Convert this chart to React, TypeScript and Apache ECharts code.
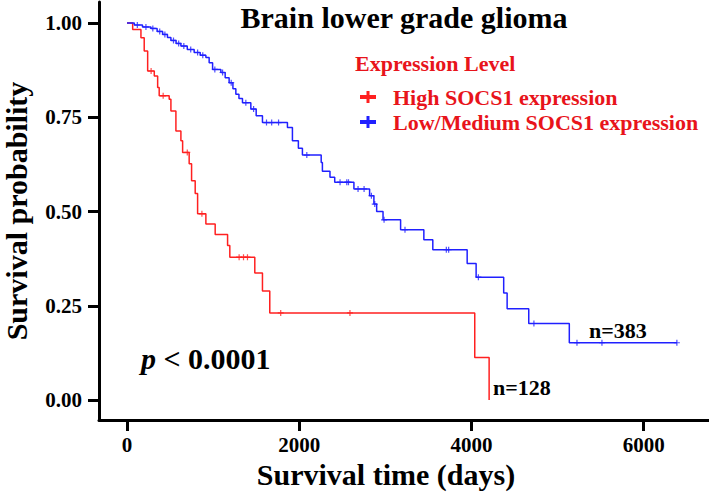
import React, { useEffect, useRef } from "react";
import * as echarts from "echarts";

// ---- Data ----
const highTimes = [0, 66, 162, 200, 240, 317, 356, 374, 490, 510, 568, 626, 646, 722, 750, 792, 820, 916, 1024, 1168, 1194, 1484, 1573, 1658, 4038, 4205];
const highSurv = [1.0, 0.983, 0.961, 0.926, 0.873, 0.86, 0.829, 0.807, 0.798, 0.767, 0.714, 0.688, 0.657, 0.627, 0.582, 0.548, 0.494, 0.467, 0.439, 0.41, 0.379, 0.337, 0.289, 0.231, 0.113, 0.0];
const highCensor = [280, 420, 700, 870, 1302, 1353, 1399, 1785, 2589];

const lowTimes = [0, 85, 180, 278, 350, 414, 470, 510, 570, 626, 700, 780, 850, 916, 954, 994, 1090, 1140, 1186, 1230, 1264, 1300, 1341, 1438, 1500, 1573, 1863, 1921, 1990, 2037, 2255, 2269, 2357, 2412, 2635, 2817, 2867, 2899, 2973, 3177, 3447, 3551, 3950, 4054, 4374, 4414, 4665, 5136];
const lowSurv = [1.0, 0.995, 0.99, 0.986, 0.978, 0.97, 0.962, 0.954, 0.946, 0.939, 0.93, 0.922, 0.915, 0.909, 0.895, 0.877, 0.869, 0.855, 0.842, 0.826, 0.811, 0.8, 0.789, 0.772, 0.754, 0.736, 0.723, 0.688, 0.668, 0.65, 0.63, 0.607, 0.591, 0.578, 0.56, 0.542, 0.52, 0.5, 0.478, 0.452, 0.425, 0.399, 0.362, 0.326, 0.284, 0.242, 0.203, 0.152];
const lowCensor = [120, 220, 300, 380, 440, 540, 600, 660, 740, 820, 880, 1020, 1110, 1210, 1380, 1470, 1620, 1680, 1760, 2088, 2474, 2552, 2572, 2683, 2753, 2838, 2877, 2985, 3228, 3708, 3735, 4080, 4725, 5225, 5515, 6385];

const xTicks = [0, 2000, 4000, 6000];
const yTicks = [0, 0.25, 0.5, 0.75, 1.0];

const seriesNames = ["High SOCS1 expression", "Low/Medium SOCS1 expression"];
const seriesColors = ["#ff2020", "#2020ff"];
const groupCounts = ["n=128", "n=383"];

const FONT = '"Liberation Serif", "Times New Roman", serif';
const TEXT_RED = "#e8141b";

function stepData(times: number[], surv: number[], censor: number[]) {
  const pts: [number, number][] = times.map((t, i) => [t, surv[i]]);
  const lastCensor = Math.max(...censor);
  const last = times[times.length - 1];
  if (lastCensor > last) pts.push([lastCensor, surv[surv.length - 1]]);
  return pts;
}

function survAt(times: number[], surv: number[], t: number) {
  let s = surv[0];
  for (let i = 0; i < times.length; i++) {
    if (times[i] <= t) s = surv[i];
  }
  return s;
}

const censorSymbol = "path://M2,0h1v2h2v1h-2v2h-1v-2h-2v-1h2z";
const legendIcon = "path://M6.5,0h3v4h6.5v4h-6.5v4h-3v-4h-6.5v-4h6.5z";

export default function App() {
  const ref = useRef<HTMLDivElement>(null);

  useEffect(() => {
    if (!ref.current) return;
    const chart = echarts.init(ref.current, null, { renderer: "svg" });

    const groups = [
      { times: highTimes, surv: highSurv, censor: highCensor },
      { times: lowTimes, surv: lowSurv, censor: lowCensor },
    ];

    const lineSeries = groups.map((g, i) => ({
      name: seriesNames[i],
      type: "line",
      step: "end",
      data: stepData(g.times, g.surv, g.censor),
      showSymbol: false,
      symbol: "none",
      lineStyle: { color: seriesColors[i], width: 1.5 },
      itemStyle: { color: seriesColors[i] },
      z: 3,
    }));

    const censorSeries = groups.map((g, i) => ({
      name: seriesNames[i] + " (censored)",
      type: "scatter",
      data: g.censor.map((t) => [t, survAt(g.times, g.surv, t)]),
      symbol: censorSymbol,
      symbolSize: 6,
      itemStyle: { color: seriesColors[i] },
      z: 4,
    }));

    chart.setOption({
      animation: false,
      backgroundColor: "#ffffff",
      grid: { left: 99, right: 0, top: 2, bottom: 74, containLabel: false, outerBoundsMode: "none" },
      legend: {
        data: seriesNames.map((n) => ({ name: n, icon: legendIcon })),
        orient: "vertical",
        left: 355,
        top: 81,
        itemWidth: 16,
        itemHeight: 12,
        itemGap: 3,
        textStyle: {
          color: TEXT_RED,
          fontFamily: FONT,
          fontWeight: "bold",
          fontSize: 22,
          lineHeight: 22,
          padding: [0, 0, 0, 12],
        },
        selectedMode: false,
      },
      xAxis: {
        type: "value",
        min: -325,
        max: 6758,
        name: "Survival time (days)",
        nameLocation: "middle",
        nameGap: 38,
        nameTextStyle: {
          fontFamily: FONT,
          fontWeight: "bold",
          fontSize: 30,
          color: "#000",
          padding: [0, 36, 0, 0],
        },
        axisLine: { show: true, onZero: false, lineStyle: { color: "#000", width: 3 } },
        axisTick: { show: true, inside: false, length: 11, customValues: xTicks, lineStyle: { color: "#000", width: 3 } },
        axisLabel: {
          customValues: xTicks,
          formatter: (v: number) => String(v),
          margin: 14,
          fontFamily: FONT,
          fontWeight: "bold",
          fontSize: 21,
          color: "#000",
        },
        splitLine: { show: false },
      },
      yAxis: {
        type: "value",
        min: -0.053,
        max: 1.056,
        name: "Survival probability",
        nameLocation: "middle",
        nameGap: 68,
        nameTextStyle: {
          fontFamily: FONT,
          fontWeight: "bold",
          fontSize: 30,
          color: "#000",
        },
        axisLine: { show: true, onZero: false, lineStyle: { color: "#000", width: 3 } },
        axisTick: { show: true, inside: false, length: 11, customValues: yTicks, lineStyle: { color: "#000", width: 3 } },
        axisLabel: {
          customValues: yTicks,
          formatter: (v: number) => v.toFixed(2),
          margin: 17,
          fontFamily: FONT,
          fontWeight: "bold",
          fontSize: 21,
          color: "#000",
        },
        splitLine: { show: false },
      },
      graphic: [
        {
          type: "text",
          x: 404,
          y: 17,
          style: {
            text: "Brain lower grade glioma",
            fontFamily: FONT,
            fontWeight: "bold",
            fontSize: 30,
            fill: "#000",
            align: "center",
            verticalAlign: "middle",
          },
        },
        {
          type: "text",
          x: 355,
          y: 63,
          style: {
            text: "Expression Level",
            fontFamily: FONT,
            fontWeight: "bold",
            fontSize: 22,
            fill: TEXT_RED,
            align: "left",
            verticalAlign: "middle",
          },
        },
        {
          type: "text",
          x: 141,
          y: 358,
          style: {
            text: "{i|p} < 0.0001",
            fontFamily: FONT,
            fontWeight: "bold",
            fontSize: 30,
            fill: "#000",
            align: "left",
            verticalAlign: "middle",
            rich: {
              i: { fontFamily: FONT, fontWeight: "bold", fontStyle: "italic", fontSize: 30, fill: "#000" },
            },
          },
        },
        {
          type: "text",
          x: 493,
          y: 387,
          style: {
            text: groupCounts[0],
            fontFamily: FONT,
            fontWeight: "bold",
            fontSize: 22,
            fill: "#000",
            align: "left",
            verticalAlign: "middle",
          },
        },
        {
          type: "text",
          x: 589,
          y: 330,
          style: {
            text: groupCounts[1],
            fontFamily: FONT,
            fontWeight: "bold",
            fontSize: 22,
            fill: "#000",
            align: "left",
            verticalAlign: "middle",
          },
        },
      ],
      series: [...lineSeries, ...censorSeries],
    });

    return () => chart.dispose();
  }, []);

  return (
    <div
      ref={ref}
      style={{ position: "fixed", left: 0, top: 0, width: 709, height: 494, background: "#fff" }}
    />
  );
}
